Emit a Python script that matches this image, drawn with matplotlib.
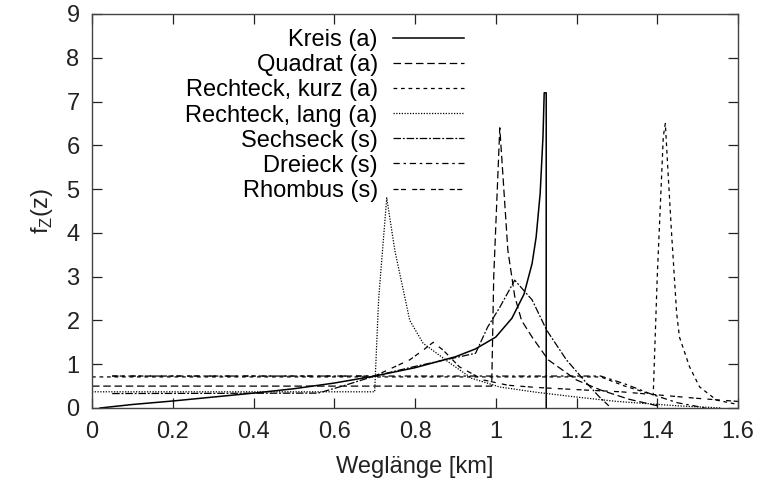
import matplotlib
matplotlib.use("Agg")
import matplotlib.pyplot as plt

plt.rcParams['font.family'] = ['Liberation Sans', 'DejaVu Sans']

# ---- data ----
kreis_x = [0.02, 0.1, 0.2, 0.3, 0.4, 0.5, 0.6, 0.7, 0.8, 0.9, 0.95, 1.0, 1.04, 1.07, 1.09, 1.10, 1.11, 1.117, 1.12, 1.125, 1.125]
kreis_y = [0.0, 0.08, 0.16, 0.25, 0.34, 0.44, 0.57, 0.73, 0.92, 1.17, 1.35, 1.62, 2.05, 2.6, 3.3, 3.9, 4.9, 6.2, 7.2, 7.2, 0.0]

quad_x = [0.0, 0.99, 0.995, 1.01, 1.02, 1.03, 1.047, 1.064, 1.09, 1.13, 1.2, 1.26, 1.33, 1.41]
quad_y = [0.5, 0.5, 3.0, 6.4, 5.0, 3.6, 2.55, 2.0, 1.62, 1.1, 0.64, 0.41, 0.2, 0.03]

rk_x = [0.0, 1.26, 1.32, 1.39, 1.40, 1.415, 1.42, 1.426, 1.435, 1.448, 1.455, 1.48, 1.505, 1.547, 1.6]
rk_y = [0.71, 0.71, 0.5, 0.3, 3.0, 6.2, 6.5, 5.5, 4.06, 2.17, 1.62, 0.94, 0.48, 0.18, 0.08]

rl_x = [0.0, 0.70, 0.71, 0.73, 0.75, 0.787, 0.82, 0.886, 0.94, 1.01, 1.1, 1.2, 1.3, 1.45, 1.56]
rl_y = [0.37, 0.37, 2.5, 4.8, 3.6, 2.0, 1.48, 1.03, 0.68, 0.48, 0.36, 0.25, 0.15, 0.05, 0.0]

sechs_x = [0.05, 0.56, 0.62, 0.70, 0.8, 0.9, 0.95, 0.98, 1.01, 1.047, 1.09, 1.126, 1.175, 1.225, 1.257, 1.28]
sechs_y = [0.33, 0.34, 0.5, 0.73, 0.95, 1.15, 1.25, 1.85, 2.3, 2.92, 2.47, 1.78, 1.1, 0.57, 0.25, 0.05]

drei_x = [0.05, 1.26, 1.32, 1.39, 1.45, 1.52]
drei_y = [0.73, 0.73, 0.55, 0.30, 0.12, 0.0]

rhom_x = [0.05, 0.70, 0.787, 0.82, 0.845, 0.87, 0.91, 0.97, 1.03, 1.1, 1.2, 1.31, 1.4, 1.5, 1.6]
rhom_y = [0.73, 0.73, 1.1, 1.32, 1.5, 1.32, 0.94, 0.64, 0.52, 0.47, 0.42, 0.37, 0.3, 0.22, 0.15]

labels = ['Kreis (a)', 'Quadrat (a)', 'Rechteck, kurz (a)', 'Rechteck, lang (a)',
          'Sechseck (s)', 'Dreieck (s)', 'Rhombus (s)']

fig = plt.figure(figsize=(7.71, 4.87), dpi=100)
ax = fig.add_axes([92/771, 1-408/487, (738-92)/771, (408-14)/487])

lw = 0.9
ax.plot(kreis_x, kreis_y, color='black', lw=1.1, linestyle='-', label=labels[0])
ax.plot(quad_x, quad_y, color='black', lw=lw, linestyle=(0, (6, 3)), label=labels[1])
ax.plot(rk_x, rk_y, color='black', lw=lw, linestyle=(0, (3, 3)), label=labels[2])
ax.plot(rl_x, rl_y, color='black', lw=lw, linestyle=(0, (1, 1.2)), label=labels[3])
ax.plot(sechs_x, sechs_y, color='black', lw=lw, linestyle=(0, (6, 1.5, 1.5, 1.5)), label=labels[4])
ax.plot(drei_x, drei_y, color='black', lw=lw, linestyle=(0, (5, 3, 2, 3)), label=labels[5])
ax.plot(rhom_x, rhom_y, color='black', lw=lw, linestyle=(0, (4, 2, 4, 5)), label=labels[6])

ax.set_xlim(0, 1.6)
ax.set_ylim(0, 9)
ax.set_xticks([0, 0.2, 0.4, 0.6, 0.8, 1.0, 1.2, 1.4, 1.6])
ax.set_xticklabels(['0', '0.2', '0.4', '0.6', '0.8', '1', '1.2', '1.4', '1.6'])
ax.set_yticks(range(10))
ax.tick_params(direction='in', length=7, width=0.9, top=True, right=True,
               labelsize=17, pad=9, colors='#222222')
for s in ax.spines.values():
    s.set_linewidth(1.0)
    s.set_color('#444444')

ax.set_xlabel('Weglänge [km]', fontsize=17, labelpad=10, color='#222222')
ax.set_ylabel(r'f$_\mathregular{Z}$(z)', fontsize=17, labelpad=8, color='#222222')

leg = ax.legend(loc='upper left', bbox_to_anchor=(0.130, 0.985), frameon=False,
                markerfirst=False, fontsize=17, handlelength=3.0,
                labelspacing=0.13, handletextpad=0.65, borderaxespad=0)
for t in leg.get_texts():
    t.set_ha('right')

fig.savefig('out.png', dpi=100)
